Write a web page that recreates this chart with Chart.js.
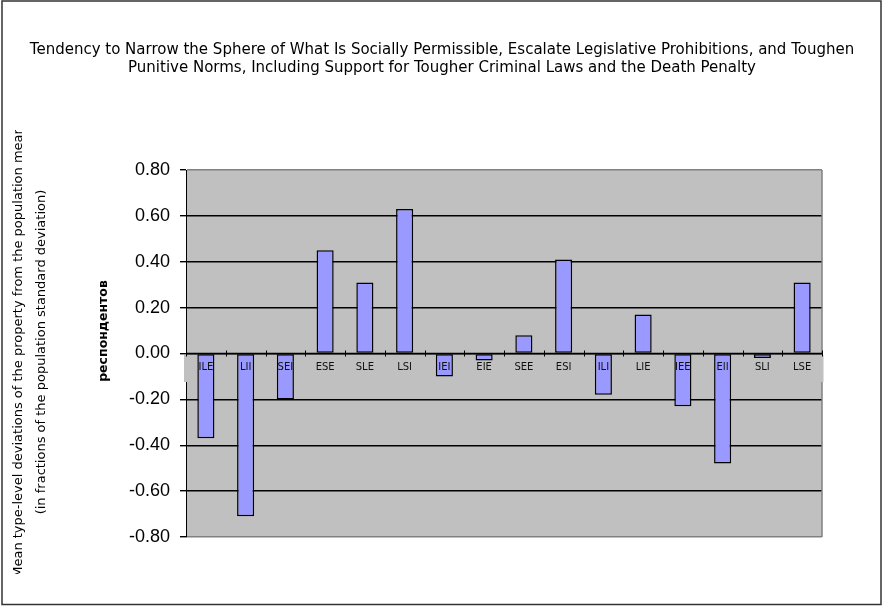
<!DOCTYPE html>
<html><head><meta charset="utf-8">
<script src="https://cdn.jsdelivr.net/npm/chart.js@4/dist/chart.umd.min.js"></script>
<style>html,body{margin:0;padding:0;background:#fff;}canvas{display:block;}</style>
</head><body>
<canvas id="c" width="884" height="607"></canvas>
<script>
const categories = ['ILE','LII','SEI','ESE','SLE','LSI','IEI','EIE','SEE','ESI','ILI','LIE','IEE','EII','SLI','LSE'];
const values = [-0.37,-0.71,-0.20,0.45,0.31,0.63,-0.10,-0.03,0.08,0.41,-0.18,0.17,-0.23,-0.48,-0.02,0.31];
const yTicks = [-0.8,-0.6,-0.4,-0.2,0,0.2,0.4,0.6,0.8];
const titleLines = [
  'Tendency to Narrow the Sphere of What Is Socially Permissible, Escalate Legislative Prohibitions, and Toughen',
  'Punitive Norms, Including Support for Tougher Criminal Laws and the Death Penalty'
];
const yTitleLines = [
  'Mean type-level deviations of the property from the population mean',
  '(in fractions of the population standard deviation)'
];
const strayLabel = 'респондентов';

const decor = {
  id: 'decor',
  beforeDraw(chart) {
    const {ctx, chartArea: a} = chart;
    ctx.save();
    ctx.fillStyle = '#fff';
    ctx.fillRect(0, 0, chart.width, chart.height);
    ctx.fillStyle = '#C0C0C0';
    ctx.fillRect(a.left, a.top, a.right - a.left, a.bottom - a.top);
    ctx.restore();
  },
  beforeDatasetsDraw(chart) {
    const {ctx, chartArea: a, scales} = chart;
    const y0 = scales.y.getPixelForValue(0);
    ctx.save();
    ctx.strokeStyle = '#808080';
    ctx.lineWidth = 1.5;
    ctx.beginPath();
    ctx.moveTo(a.right, a.top);
    ctx.lineTo(a.right, a.bottom);
    ctx.stroke();
    ctx.fillStyle = '#C0C0C0';
    ctx.fillRect(a.left - 2, y0 + 1.5, a.right - a.left + 3.5, 27);
    ctx.restore();
  },
  afterDatasetsDraw(chart) {
    const {ctx, chartArea: a, scales} = chart;
    const xs = scales.x;
    const y0 = scales.y.getPixelForValue(0);
    const step = xs.getPixelForValue(1) - xs.getPixelForValue(0);
    ctx.save();
    ctx.strokeStyle = '#000';
    ctx.lineWidth = 1.5;
    ctx.beginPath();
    ctx.moveTo(a.left, y0);
    ctx.lineTo(a.right, y0);
    ctx.stroke();
    ctx.lineWidth = 1;
    ctx.beginPath();
    for (let i = 0; i <= categories.length; i++) {
      const x = Math.round(i < categories.length ? xs.getPixelForValue(i) - step / 2 : a.right) + 0.5;
      ctx.moveTo(x, y0 - 3);
      ctx.lineTo(x, y0 + 3);
    }
    ctx.stroke();
    ctx.fillStyle = '#111';
    ctx.font = '10px "DejaVu Sans"';
    ctx.textAlign = 'center';
    ctx.textBaseline = 'middle';
    categories.forEach((c, i) => ctx.fillText(c, xs.getPixelForValue(i), y0 + 13.5));
    ctx.restore();
  },
  afterDraw(chart) {
    const {ctx} = chart;
    // chart title
    ctx.save();
    ctx.fillStyle = '#000';
    ctx.font = '15px "DejaVu Sans"';
    ctx.textAlign = 'center';
    ctx.textBaseline = 'middle';
    titleLines.forEach((t, i) => ctx.fillText(t, 442, 50 + i * 18));
    ctx.restore();
    // y-axis titles (clipped like the original)
    ctx.save();
    ctx.beginPath();
    ctx.rect(0, 130, chart.width, 444);
    ctx.clip();
    ctx.fillStyle = '#000';
    ctx.font = '13px "DejaVu Sans"';
    ctx.textAlign = 'center';
    ctx.textBaseline = 'middle';
    [[19, yTitleLines[0]], [42, yTitleLines[1]]].forEach(([x, t]) => {
      ctx.save();
      ctx.translate(x, 352);
      ctx.rotate(-Math.PI / 2);
      ctx.fillText(t, 0, 0);
      ctx.restore();
    });
    ctx.restore();
    // stray rotated label
    ctx.save();
    ctx.fillStyle = '#000';
    ctx.font = 'bold 12.5px "DejaVu Sans"';
    ctx.textAlign = 'center';
    ctx.textBaseline = 'alphabetic';
    ctx.translate(107, 331);
    ctx.rotate(-Math.PI / 2);
    ctx.fillText(strayLabel, 0, 0);
    ctx.restore();
    // outer frame
    ctx.save();
    ctx.strokeStyle = '#333';
    ctx.lineWidth = 1.5;
    ctx.strokeRect(2, 1, 879, 603.5);
    ctx.restore();
  }
};

new Chart(document.getElementById('c'), {
  type: 'bar',
  data: {
    labels: categories,
    datasets: [{
      data: values,
      backgroundColor: '#9999FF',
      borderColor: '#000',
      borderWidth: 1.5,
      borderSkipped: false,
      barPercentage: 0.43,
      categoryPercentage: 1.0
    }]
  },
  options: {
    responsive: false,
    animation: false,
    layout: {padding: {left: 0, right: 62, top: 170, bottom: 70}},
    plugins: {
      legend: {display: false},
      tooltip: {enabled: false},
      title: {display: false}
    },
    scales: {
      x: {
        type: 'category',
        display: false,
        offset: true
      },
      y: {
        min: -0.8,
        max: 0.8,
        afterBuildTicks: s => { s.ticks = yTicks.map(v => ({value: v})); },
        afterFit: s => { s.width = 186; },
        grid: {
          color: c => (c.tick && Math.abs(c.tick.value) > 0.79 ? '#808080' : '#000'),
          tickColor: '#000',
          lineWidth: 1.4,
          tickLength: 6,
          drawTicks: true
        },
        border: {display: true, color: '#000', width: 1},
        ticks: {
          font: {family: 'Liberation Sans', size: 18},
          color: '#000',
          padding: 10,
          callback: v => Number(v).toFixed(2)
        }
      }
    }
  },
  plugins: [decor]
});
</script>
</body></html>
